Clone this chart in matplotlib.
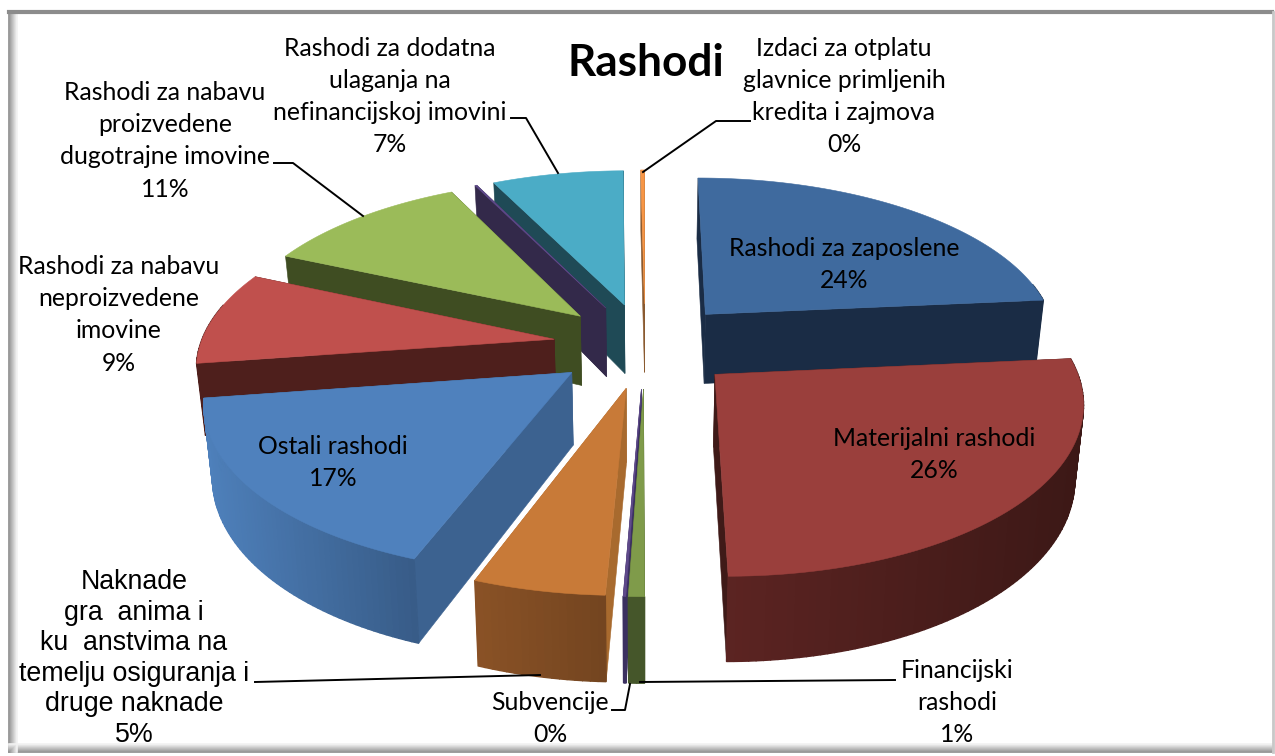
import matplotlib
matplotlib.use('Agg')
import matplotlib.pyplot as plt
import numpy as np

plt.rcParams['font.family'] = ['Lato', 'DejaVu Sans']

# data
categories = ['Rashodi za zaposlene', 'Materijalni rashodi', 'Financijski rashodi', 'Subvencije',
              'Naknade', 'Ostali rashodi', 'neproizvedene', 'proizvedene', 'nepoznato',
              'dodatna ulaganja', 'Izdaci za otplatu']
values = [23.5, 26.4, 0.6, 0.1, 5.0, 17.0, 9.0, 11.0, 0.1, 7.0, 0.2]

top_colors = ['#3f6a9e', '#9a3f3c', '#7f9b4a', '#5f4a8b', '#c87a38', '#4f81bd',
              '#c0504d', '#9bbb59', '#5f4a8b', '#4bacc6', '#f79646']
side_colors = ['#1a2c45', '#3f1a18', '#45562a', '#3b3060', '#a86a2e', '#3c6290',
               '#4e1f1c', '#3f4d22', '#33294a', '#1f4a56', '#8a5a30']
arc_left = ['#1a2c45', '#5c2422', '#45562a', '#3b3060', '#8a5226', '#4e80bb',
            '#4e1f1c', '#3f4d22', '#33294a', '#1f4a56', '#8a5a30']
arc_right = ['#1a2c45', '#3c1816', '#45562a', '#3b3060', '#744520', '#385c88',
             '#4e1f1c', '#3f4d22', '#33294a', '#1f4a56', '#8a5a30']

# perspective of the pie, in pixels
cx, horizon, dist = 645, -805, 1150
rx, k, depth, explode = 354, 0.1425, 71, 0.26
taper = 0.02


def project(u, v, z=0):
    w = 1 / (1 + k * v)
    return cx + rx * u * w * (1 - taper * z / depth), horizon + dist * w + z * w


def rgb(c):
    return np.array(matplotlib.colors.to_rgb(c))


fig = plt.figure(figsize=(12.75, 7.56), dpi=100)
ax = fig.add_axes([0, 0, 1, 1])
ax.set_xlim(0, 1275)
ax.set_ylim(756, 0)
ax.axis('off')

# frame with the soft inner shadow
for i in range(9):
    g = 0.55 + 0.05 * i
    ax.plot([9 + i, 9 + i], [12, 752], color=str(g), lw=1.2, zorder=1)
    ax.plot([9, 1272], [752 - i, 752 - i], color=str(g), lw=1.2, zorder=1)
ax.plot([9, 1272], [12, 12], color='#8c8c8c', lw=3, zorder=1)
ax.plot([1273, 1273], [12, 752], color='#c8c8c8', lw=2, zorder=1)

fractions = np.array(values) / sum(values)
ends = np.cumsum(fractions) * 2 * np.pi
starts = ends - fractions * 2 * np.pi
order = np.argsort(-np.cos((starts + ends) / 2))

z = 2
for i in order:
    a0, a1 = starts[i], ends[i]
    mid = (a0 + a1) / 2
    ou, ov = explode * np.sin(mid), explode * np.cos(mid)
    th = np.linspace(a0, a1, max(3, int(np.degrees(a1 - a0))))
    us, vs = ou + np.sin(th), ov + np.cos(th)

    # radial walls, far one first
    walls = sorted([(us[0], vs[0]), (us[-1], vs[-1])], key=lambda p: -p[1])
    for u, v in walls:
        corners = [project(ou, ov), project(u, v), project(u, v, depth), project(ou, ov, depth)]
        ax.fill(*zip(*corners), color=side_colors[i], lw=0.4, zorder=z)

    # outer wall, shaded along the arc
    c0, c1 = rgb(arc_left[i]), rgb(arc_right[i])
    xs = np.array([project(a, b)[0] for a, b in zip(us, vs)])
    span = max(xs.max() - xs.min(), 1)
    for j in range(len(th) - 1):
        if np.cos(th[j]) > 0.2:
            continue
        t = (xs[j] - xs.min()) / span
        col = c0 + (c1 - c0) * t
        corners = [project(us[j], vs[j]), project(us[j + 1], vs[j + 1]),
                   project(us[j + 1], vs[j + 1], depth), project(us[j], vs[j], depth)]
        ax.fill(*zip(*corners), color=col, lw=1.0, zorder=z)

    # top face
    face = [project(ou, ov)] + [project(a, b) for a, b in zip(us, vs)]
    ax.fill(*zip(*face), color=top_colors[i], lw=0.4, zorder=z + 0.5)
    z += 1

# leader lines
leaders = [
    [(511, 118), (526, 118), (558, 173)],
    [(750, 121), (716, 121), (643, 172)],
    [(274, 163), (293, 163), (363, 216)],
    [(255, 682), (540, 675)],
    [(612, 710), (625, 710), (630, 684)],
    [(895, 680), (640, 682)],
]
for line in leaders:
    ax.plot(*zip(*line), color='black', lw=1.4, zorder=50)

# labels: centre x, first line y, line step, lines
labels = [
    (390, 49, 32, ['Rashodi za dodatna', 'ulaganja na', 'nefinancijskoj imovini', '7%']),
    (844, 49, 32, ['Izdaci za otplatu', 'glavnice primljenih', 'kredita i zajmova', '0%']),
    (165, 92, 32.5, ['Rashodi za nabavu', 'proizvedene', 'dugotrajne imovine', '11%']),
    (119, 266, 32.5, ['Rashodi za nabavu', 'neproizvedene', 'imovine', '9%']),
    (844, 249, 32, ['Rashodi za zaposlene', '24%']),
    (934, 438, 32, ['Materijalni rashodi', '26%']),
    (333, 446, 32, ['Ostali rashodi', '17%']),
    (957, 670, 32, ['Financijski', 'rashodi', '1%']),
    (550, 702, 32, ['Subvencije', '0%']),
]
for x, y, step, lines in labels:
    for n, s in enumerate(lines):
        ax.text(x, y + n * step, s, ha='center', va='center', fontsize=17.8, color='black', zorder=60)

naknade = ['Naknade', 'gra  anima i', 'ku  anstvima na', 'temelju osiguranja i', 'druge naknade', '5%']
for n, s in enumerate(naknade):
    ax.text(134, 582 + n * 30.6, s, ha='center', va='center', fontsize=19.3,
            family=['Liberation Sans', 'DejaVu Sans'], color='black', zorder=60)

ax.text(646, 63, 'Rashodi', ha='center', va='center', fontsize=31.8, fontweight='bold', color='black', zorder=60)

fig.savefig('out.png', dpi=100)
